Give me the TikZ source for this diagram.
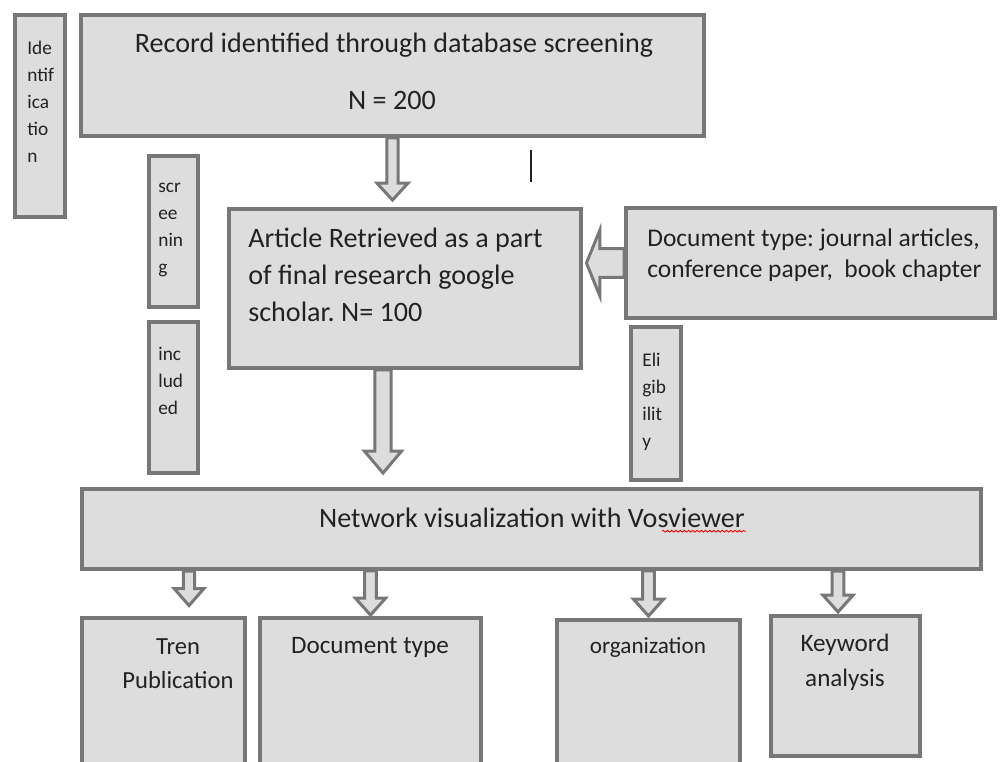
\documentclass[tikz,border=0pt]{standalone}
\usepackage{fontspec}
\setmainfont{Carlito}
\usetikzlibrary{calc}
\usetikzlibrary{decorations.pathmorphing}

\definecolor{boxfill}{HTML}{DDDDDD}
\definecolor{boxline}{HTML}{777777}
\definecolor{inktext}{HTML}{222222}

\tikzset{
  box/.style={draw=boxline, fill=boxfill, line width=2.2pt, inner sep=0pt},
  blockarrow/.style={draw=boxline, fill=boxfill, line width=1.7pt, line join=miter},
  bigtxt/.style={text=inktext, inner sep=0pt, font=\fontsize{16}{21}\selectfont},
  sidetxt/.style={text=inktext, inner sep=0pt, align=left, font=\fontsize{11}{15.3}\selectfont},
}

% hollow block arrow pointing down: top, bottom, gap, shaft, head, head length
\newcommand{\blockdown}[6]{%
  \draw[blockarrow] let \p1=(#1), \p2=(#2) in
    (\x1-#4,\y1) -- (\x1-#4,\y2+#3+#6) -- (\x1-#5,\y2+#3+#6) -- (\x1,\y2+#3)
    -- (\x1+#5,\y2+#3+#6) -- (\x1+#4,\y2+#3+#6) -- (\x1+#4,\y1) -- cycle;
}

\begin{document}
\frenchspacing
\begin{tikzpicture}[x=0.02cm, y=-0.02cm]
  \useasboundingbox (0,0) rectangle (1000,761);
  \clip (0,0) rectangle (1000,761);

  % side labels
  \node[box, minimum width=1.0cm, minimum height=4.04cm] (ident) at (40,116) {};
  \node[box, minimum width=0.98cm, minimum height=3.02cm] (scr) at (173.5,231.5) {};
  \node[box, minimum width=0.98cm, minimum height=3.02cm] (inc) at (173.5,397.5) {};
  \node[box, minimum width=1.0cm, minimum height=3.06cm] (eli) at (656,403.5) {};

  % main flow
  \node[box, minimum width=12.46cm, minimum height=2.42cm] (rec) at (392.5,75.5) {};
  \node[box, minimum width=7.04cm, minimum height=3.18cm] (art) at (405,288.5) {};
  \node[box, minimum width=7.38cm, minimum height=2.2cm] (doc) at (810.5,263) {};
  \node[box, minimum width=17.98cm, minimum height=1.6cm] (net) at (531.5,529) {};

  % results
  \node[box, minimum width=3.26cm, minimum height=3.0cm] (tren) at (163.5,693) {};
  \node[box, minimum width=4.42cm, minimum height=3.0cm] (dtype) at (370.5,693) {};
  \node[box, minimum width=3.66cm, minimum height=2.96cm] (org) at (648.5,694) {};
  \node[box, minimum width=2.98cm, minimum height=2.8cm] (key) at (845.5,686) {};

  % texts
  \node[sidetxt, anchor=west] (identtxt) at (27,102) {Ide\\ntif\\ica\\tio\\n};
  \node[sidetxt, anchor=west] (scrtxt) at (158,230) {scr\\ee\\nin\\g};
  \node[sidetxt, anchor=west] (inctxt) at (158,381) {inc\\lud\\ed};
  \node[sidetxt, anchor=west] (elitxt) at (642,402) {Eli\\gib\\ilit\\y};

  \node[bigtxt] (rectxt) at (394,45) {Record identified through database screening};
  \node[bigtxt] (recn) at (392,100) {N = 200};
  \node[bigtxt, anchor=west, align=left] (arttxt) at (248,275)
    {Article Retrieved as a part\\of final research google\\scholar. N= 100};
  \node[bigtxt, anchor=west, align=left, font=\fontsize{14.5}{17.6}\selectfont] (doctxt) at (647,255.5)
    {Document type: journal articles,\\conference paper,~ book chapter};
  \node[bigtxt] (nettxt) at (532,518) {Network visualization with Vosviewer};
  \node[bigtxt, align=center, font=\fontsize{14}{19.3}\selectfont] (trentxt) at (178,664) {Tren\\Publication};
  \node[bigtxt, font=\fontsize{14.3}{19}\selectfont] (dtypetxt) at (370,647) {Document type};
  \node[bigtxt, font=\fontsize{13.2}{19}\selectfont] (orgtxt) at (648,647) {organization};
  \node[bigtxt, align=center, font=\fontsize{14.3}{19.8}\selectfont] (keytxt) at (845,662) {Keyword\\analysis};

  % spelling mark and cursor
  \draw[red, line width=0.5pt, decorate, decoration={snake, amplitude=0.5pt, segment length=2.4pt}]
    (nettxt.south -| 662,0) ++(0,3) -- ++(84,0);
  \draw[inktext, line width=1pt] (531,150) -- (531,182);

  % arrows
  \coordinate (a2top) at ($(art.south)+(-22,0)$);
  \coordinate (a3top) at (189,571);
  \coordinate (a6top) at (838,571);
  \blockdown{rec.south}{art.north -| rec.south}{4pt}{3.2pt}{8.8pt}{9.6pt}
  \blockdown{a2top}{net.north -| a2top}{8pt}{4.6pt}{10.6pt}{12.5pt}
  \blockdown{a3top}{tren.north -| a3top}{6pt}{3.2pt}{8.4pt}{9.6pt}
  \blockdown{net.south -| dtype.north}{dtype.north}{0.6pt}{3.4pt}{8.6pt}{9.6pt}
  \blockdown{net.south -| org.north}{org.north}{1.2pt}{3.4pt}{8.6pt}{9.6pt}
  \blockdown{a6top}{key.north -| a6top}{1.2pt}{3.4pt}{8.6pt}{9.6pt}
  \draw[blockarrow] let \p1=(doc.west), \p2=(art.east) in
    (\x1,\y1+8.2pt) -- (\x2+9.6pt,\y1+8.2pt) -- (\x2+9.6pt,\y1+18.6pt) -- (\x2+2pt,\y1)
    -- (\x2+9.6pt,\y1-18.6pt) -- (\x2+9.6pt,\y1-8.2pt) -- (\x1,\y1-8.2pt) -- cycle;
\end{tikzpicture}
\end{document}
